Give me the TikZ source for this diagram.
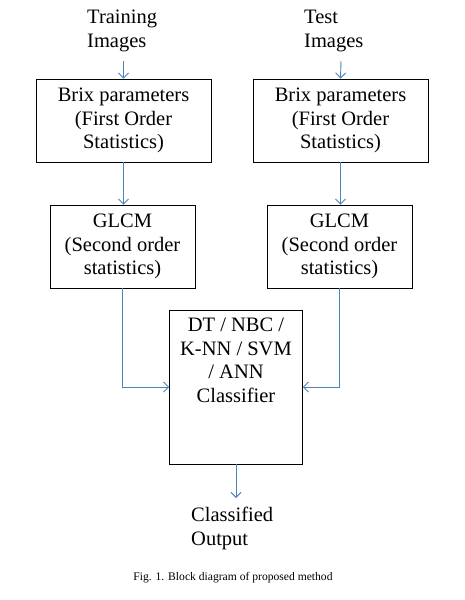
\documentclass[tikz,border=0pt]{standalone}
\usepackage{fontspec}
\setmainfont{Liberation Serif}
\usetikzlibrary{arrows.meta}
\definecolor{arrblue}{RGB}{79,129,189}
\tikzset{
  box/.style={draw=black, line width=0.9pt, inner sep=0pt, align=center,
    font=\fontsize{20.5}{23.5}\selectfont},
  lbl/.style={inner sep=0pt, align=left, anchor=north west,
    font=\fontsize{20.5}{23.5}\selectfont},
  arr/.style={draw=arrblue, line width=0.9pt, -{Straight Barb[length=5pt,width=10pt]}},
}
\begin{document}
\begin{tikzpicture}[x=1pt,y=-1pt]
\useasboundingbox (0,0) rectangle (465,600);
% inputs
\node[lbl] (train) at (87,10) {Training\\Images};
\node[lbl] (test) at (304,10) {Test\\Images};
\coordinate (s1) at (123.5,61);
\coordinate (s2) at (341,61);
% first order
\node[box, minimum width=175pt, minimum height=83pt] (b1) at (123.5,120.5) {Brix parameters\\(First Order\\Statistics)};
\node[box, minimum width=175pt, minimum height=83pt] (b2) at (340.5,120.5) {Brix parameters\\(First Order\\Statistics)};
% GLCM
\node[box, minimum width=145pt, minimum height=83pt] (g1) at (122.5,246.5) {GLCM\\(Second order\\statistics)};
\node[box, minimum width=145pt, minimum height=83pt] (g2) at (339.5,246.5) {GLCM\\(Second order\\statistics)};
% classifier
\node[box, minimum width=133pt, minimum height=154pt] (clf) at (236,387) {};
\node[inner sep=0pt, align=center, anchor=north, font=\fontsize{20.5}{23.5}\selectfont] (clft) at (236,318) {DT / NBC /\\K-NN / SVM\\/ ANN\\Classifier};
% output
\coordinate (o1) at (236,498);
\node[lbl] (out) at (191,507) {Classified\\Output};
% caption
\node[inner sep=0pt, font=\fontsize{11.6}{13}\selectfont] (cap) at (233,578) {Fig. 1. Block diagram of proposed method};
% connectors
\draw[arr] (s1) -- (b1.north);
\draw[arr] (s2) -- (b2.north);
\draw[arr] (b1.south) -- (b1.south |- g1.north);
\draw[arr] (b2.south) -- (b2.south |- g2.north);
\draw[arr] (g1.south) |- (clf.west);
\draw[arr] (g2.south) |- (clf.east);
\draw[arr] (clf.south) -- (o1);
\end{tikzpicture}
\end{document}
